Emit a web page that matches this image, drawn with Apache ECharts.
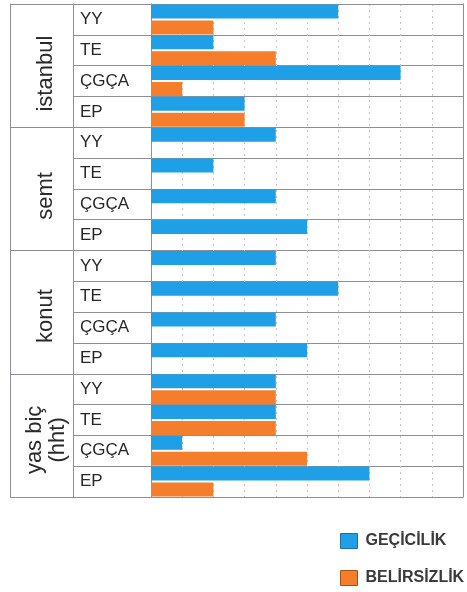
<!DOCTYPE html>
<html>
<head>
<meta charset="utf-8">
<script src="https://cdn.jsdelivr.net/npm/echarts@6/dist/echarts.min.js"></script>
<style>
html,body{margin:0;padding:0;background:#fff;}
#chart{width:467px;height:592px;}
</style>
</head>
<body>
<div id="chart"></div>
<script>
// ---- data ----
var groups = ['istanbul', 'semt', 'konut', 'yas biç\n(hht)'];
var rowLabels = ['YY', 'TE', 'ÇGÇA', 'EP'];
var seriesNames = ['GEÇİCİLİK', 'BELİRSİZLİK'];
var gecicilik   = [6, 2, 8, 3,  4, 2, 4, 5,  4, 6, 4, 5,  4, 4, 1, 7];
var belirsizlik = [2, 4, 1, 3,  0, 0, 0, 0,  0, 0, 0, 0,  4, 4, 5, 2];
var xTicks = [0, 1, 2, 3, 4, 5, 6, 7, 8, 9, 10];

// ---- build ----
var categories = [];
groups.forEach(function (g, gi) {
  rowLabels.forEach(function (r) { categories.push(gi + '|' + r); });
});

var lineColor = '#8e8e98';
var blue = '#1f9fe6';
var orange = '#f57e2c';
var groupShift = [16, 14, 8, 9];
var gFont = 'Liberation Sans, Arial, sans-serif';

function richStyle(i, lh) {
  return {fontFamily: gFont, fontSize: 22, color: '#2a2a2a', padding: [0, groupShift[i], 0, 0], lineHeight: lh};
}

var chart = echarts.init(document.getElementById('chart'), null, {renderer: 'canvas'});
var option = {
  animation: false,
  backgroundColor: '#ffffff',
  grid: {left: 151, right: 4, top: 4, bottom: 95, containLabel: false},
  xAxis: [{
    type: 'value', position: 'bottom',
    min: xTicks[0], max: xTicks[xTicks.length - 1], interval: 1,
    axisLine: {show: true, onZero: false, lineStyle: {color: lineColor, width: 1}},
    axisTick: {show: false},
    axisLabel: {show: false},
    splitLine: {show: true, lineStyle: {color: '#c4c4c4', type: [2, 4], width: 1}}
  }, {
    type: 'value', position: 'top',
    min: xTicks[0], max: xTicks[xTicks.length - 1], interval: 1,
    axisLine: {show: true, onZero: false, lineStyle: {color: lineColor, width: 1}},
    axisTick: {show: false},
    axisLabel: {show: false},
    splitLine: {show: false}
  }],
  yAxis: [{
    type: 'category', position: 'left', inverse: true,
    data: categories,
    axisLine: {show: true, onZero: false, lineStyle: {color: lineColor, width: 1}},
    axisTick: {show: true, interval: 0, length: 78, lineStyle: {color: lineColor, width: 1}},
    axisLabel: {
      show: true, interval: 0, margin: 71, align: 'left', verticalAlign: 'middle',
      padding: [6, 0, 0, 0],
      fontFamily: gFont, fontSize: 17, color: '#262626',
      formatter: function (v) { return v.split('|')[1]; }
    },
    splitLine: {show: true, interval: 0, lineStyle: {color: lineColor, width: 1}}
  }, {
    type: 'category', position: 'left', inverse: true, offset: 78,
    data: groups,
    axisLine: {show: true, onZero: false, lineStyle: {color: lineColor, width: 1}},
    axisTick: {show: true, interval: 0, length: 63, lineStyle: {color: lineColor, width: 1}},
    axisLabel: {
      show: true, interval: 0, rotate: 90, margin: 27,
      align: 'center', verticalAlign: 'middle',
      fontFamily: gFont, fontSize: 22, color: '#2a2a2a',
      formatter: function (v, i) {
        return v.split('\n').map(function (p) { return '{g' + i + '|' + p + '}'; }).join('\n');
      },
      rich: {g0: richStyle(0, 22), g1: richStyle(1, 22), g2: richStyle(2, 22), g3: richStyle(3, 23)}
    },
    splitLine: {show: false}
  }, {
    type: 'category', position: 'left', inverse: true, offset: 141,
    data: groups,
    axisLine: {show: true, onZero: false, lineStyle: {color: lineColor, width: 1}},
    axisTick: {show: false}, axisLabel: {show: false}, splitLine: {show: false}
  }, {
    type: 'category', position: 'right', inverse: true, offset: 0,
    data: categories,
    axisLine: {show: true, onZero: false, lineStyle: {color: lineColor, width: 1}},
    axisTick: {show: false}, axisLabel: {show: false}, splitLine: {show: false}
  }],
  legend: {
    show: true, orient: 'vertical', left: 340, top: 533, padding: 0,
    itemWidth: 17, itemHeight: 15, itemGap: 21,
    icon: 'rect',
    textStyle: {fontFamily: gFont, fontWeight: 'bold', fontSize: 16, color: '#3a3a3a', lineHeight: 15, padding: [0, 0, 0, 3]},
    data: [
      {name: seriesNames[0], itemStyle: {borderColor: '#1a6fa6', borderWidth: 1}},
      {name: seriesNames[1], itemStyle: {borderColor: '#a8521a', borderWidth: 1}}
    ]
  },
  series: [{
    name: seriesNames[0], type: 'bar', xAxisIndex: 0, yAxisIndex: 0,
    data: gecicilik, barWidth: 14, barGap: '14%',
    itemStyle: {color: blue}
  }, {
    name: seriesNames[1], type: 'bar', xAxisIndex: 0, yAxisIndex: 0,
    data: belirsizlik, barWidth: 14, barGap: '14%',
    itemStyle: {color: orange}
  }]
};
chart.setOption(option);
</script>
</body>
</html>
